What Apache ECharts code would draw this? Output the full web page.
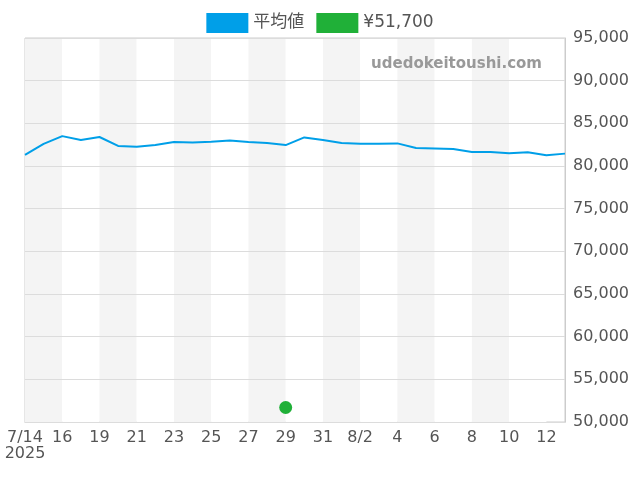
<!DOCTYPE html>
<html><head><meta charset="utf-8">
<script src="https://cdn.jsdelivr.net/npm/echarts@6/dist/echarts.min.js"></script>
<style>html,body{margin:0;padding:0}#main{width:640px;height:480px}</style>
</head><body><div id="main"></div>
<script>
var dates = ['2025-07-14','2025-07-15','2025-07-16','2025-07-17','2025-07-19','2025-07-20','2025-07-21','2025-07-22','2025-07-23','2025-07-24','2025-07-25','2025-07-26','2025-07-27','2025-07-28','2025-07-29','2025-07-30','2025-07-31','2025-08-01','2025-08-02','2025-08-03','2025-08-04','2025-08-05','2025-08-06','2025-08-07','2025-08-08','2025-08-09','2025-08-10','2025-08-11','2025-08-12','2025-08-13'];
var avgPrice = [81300,82600,83500,83050,83400,82350,82250,82450,82800,82750,82850,83000,82800,82700,82450,83350,83050,82700,82600,82600,82650,82100,82050,82000,81650,81650,81500,81600,81250,81450];
var salePoint = [['2025-07-29', 51700]];

var chart = echarts.init(document.getElementById('main'));
var font = 'DejaVu Sans';
chart.setOption({
  animation: false,
  textStyle: {fontFamily: font},
  legend: {
    top: 8, left: 'center', itemWidth: 42, itemHeight: 20, itemGap: 12,
    textStyle: {fontSize: 17, color: '#555', fontFamily: 'DejaVu Sans, "Noto Sans CJK JP"'},
    data: [{name: '平均値', icon: 'rect'}, {name: '¥51,700', icon: 'rect'}]
  },
  graphic: [{type: 'text', right: 98, top: 57, z: 100,
    style: {text: 'udedokeitoushi.com', fontSize: 15, fontWeight: 'bold', fill: '#999', fontFamily: font}}],
  grid: {left: 25, right: 75, top: 38, bottom: 58, show: true, borderColor: '#ccc', borderWidth: 1},
  xAxis: {
    type: 'category', boundaryGap: false, data: dates, z: 0,
    axisLine: {lineStyle: {color: '#ccc'}},
    axisTick: {show: false},
    splitArea: {show: true, interval: 1, areaStyle: {color: ['#f4f4f4', '#ffffff']}},
    axisLabel: {
      interval: 1, color: '#555', fontSize: 16, margin: 8,
      formatter: function (v, i) {
        var p = v.split('-');
        var m = +p[1], d = +p[2];
        if (i === 0) return m + '/' + d + '\n' + p[0];
        if (d <= 2) return m + '/' + d;
        return String(d);
      }
    }
  },
  yAxis: {
    type: 'value', position: 'right', min: 50000, max: 95000, interval: 5000, z: 3,
    axisLine: {show: true, lineStyle: {color: '#ccc'}},
    splitLine: {lineStyle: {color: '#dcdcdc'}},
    axisLabel: {color: '#555', fontSize: 16, formatter: function (v) { return v.toLocaleString('en-US'); }}
  },
  series: [
    {name: '平均値', type: 'line', data: avgPrice, symbol: 'none', color: '#009fe8', lineStyle: {width: 2}, z: 5},
    {name: '¥51,700', type: 'scatter', data: salePoint, symbolSize: 13, color: '#20b038', itemStyle: {opacity: 1}, z: 6}
  ]
});
</script></body></html>
